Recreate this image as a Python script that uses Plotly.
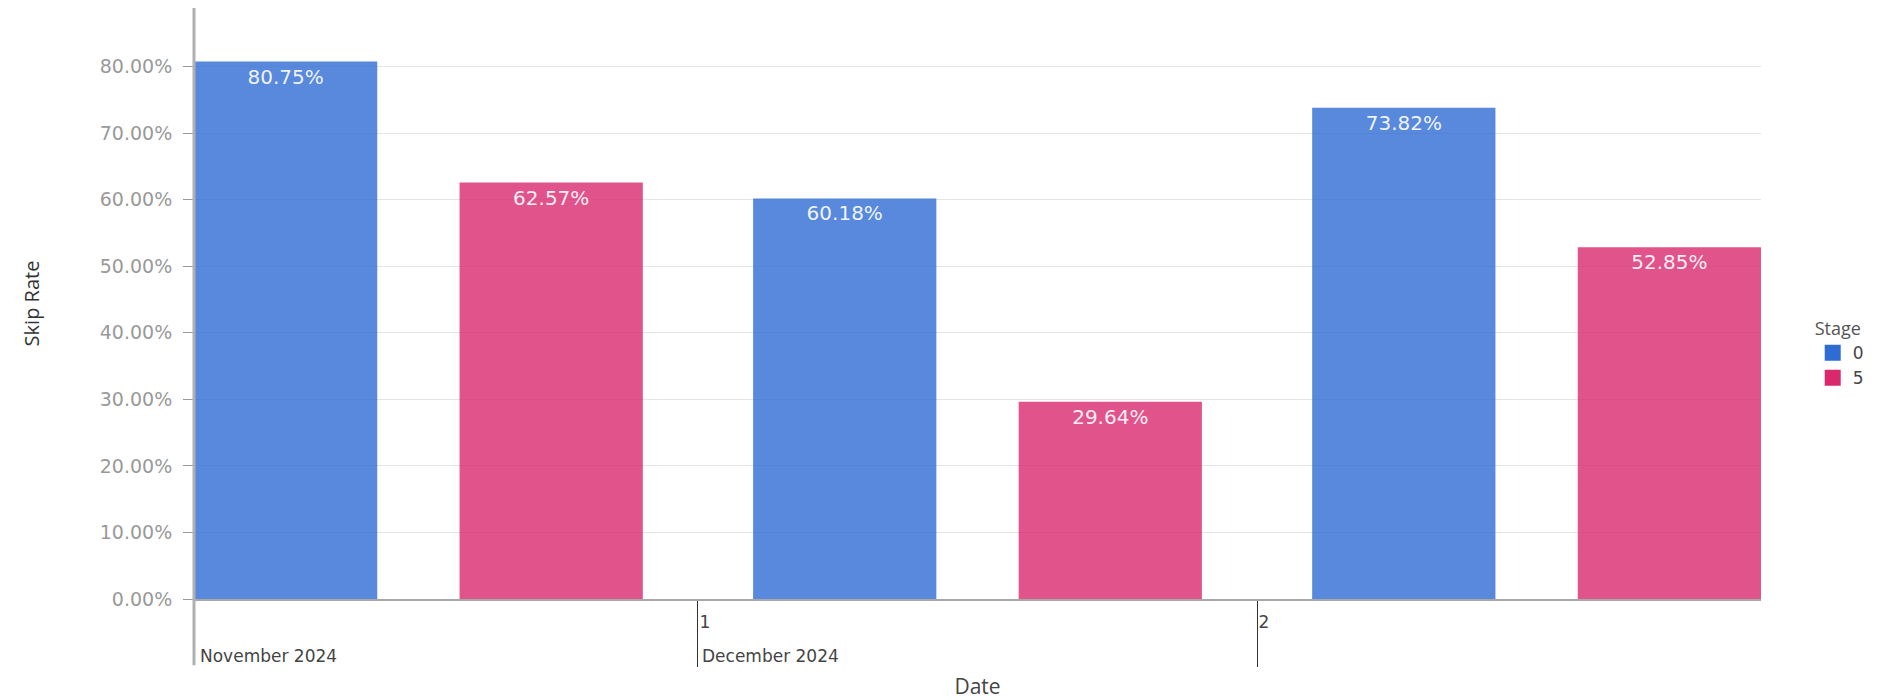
import plotly.graph_objects as go

# Daily skip rate per stage
dates = ["2024-11-30", "2024-12-01", "2024-12-02"]
stages = ["0", "5"]
skip_rate_stage0 = [0.8075, 0.6018, 0.7382]
skip_rate_stage5 = [0.6257, 0.2964, 0.5285]

# x-axis labels: day numbers at day boundaries, month headers below
tick_dates = ["2024-12-01", "2024-12-02"]
tick_labels = ["1", "2"]
month_labels = ["November 2024", "December 2024"]

# visible date window, trimmed to the outer bar edges
x_window = ["2024-11-30 02:22", "2024-12-02 21:38"]

solid_colors = ["#2e6cd4", "#da286e"]
bar_colors = ["rgba(46,108,212,0.8)", "rgba(218,40,110,0.8)"]

fig = go.Figure()
for name, values, color in zip(stages, [skip_rate_stage0, skip_rate_stage5], bar_colors):
    fig.add_trace(go.Bar(
        x=dates,
        y=values,
        name=name,
        xperiod=86400000,
        xperiodalignment="middle",
        marker=dict(color=color, line=dict(width=0)),
        text=[f"{v:.2%}" for v in values],
        textposition="inside",
        insidetextanchor="end",
        insidetextfont=dict(family="DejaVu Sans", size=20, color="rgba(255,255,255,0.92)"),
        showlegend=False,
        hovertemplate="%{y:.2%}<extra></extra>",
    ))

# legend swatches in full colour
for name, color in zip(stages, solid_colors):
    fig.add_trace(go.Scatter(
        x=[None], y=[None], mode="markers", name=name,
        marker=dict(symbol="square", size=16, color=color),
        showlegend=True,
    ))

annotations = [
    dict(text=month_labels[0], xref="paper", x=0, yref="paper", y=-0.097,
         xanchor="left", yanchor="middle", showarrow=False, xshift=4,
         font=dict(family="DejaVu Sans", size=17, color="#444")),
    dict(text=month_labels[1], xref="x", x=tick_dates[0], yref="paper", y=-0.097,
         xanchor="left", yanchor="middle", showarrow=False, xshift=2,
         font=dict(family="DejaVu Sans", size=17, color="#444")),
]

fig.update_layout(
    width=1900,
    height=700,
    margin=dict(l=194, r=139, t=8, b=101),
    paper_bgcolor="white",
    plot_bgcolor="white",
    barmode="group",
    bargap=0.05,
    bargroupgap=0.31,
    font=dict(family="DejaVu Sans", color="#444"),
    legend=dict(
        title=dict(text="Stage", font=dict(family="Open Sans", size=18, color="#555")),
        font=dict(family="DejaVu Sans", size=17, color="#444"),
        x=1.033, xanchor="left", y=0.486, yanchor="top",
        itemwidth=30, tracegroupgap=0,
    ),
    annotations=annotations,
    shapes=[
        dict(type="line", xref="paper", yref="paper", x0=0, x1=0, y0=-0.112, y1=1,
             line=dict(color="#b0b0b0", width=3)),
    ],
    xaxis=dict(
        type="date",
        range=x_window,
        automargin=False,
        tickvals=tick_dates,
        ticktext=tick_labels,
        ticks="outside",
        ticklen=66,
        tickwidth=1,
        tickcolor="#333",
        ticklabelposition="outside right",
        ticklabelstandoff=7,
        tickfont=dict(family="DejaVu Sans", size=17, color="#444"),
        showgrid=False,
        showline=True,
        linecolor="#a8a8a8",
        linewidth=2,
        zeroline=False,
        title=dict(text="Date", font=dict(family="Open Sans", size=21, color="#444"), standoff=57),
    ),
    yaxis=dict(
        range=[0, 0.888],
        automargin=False,
        tick0=0,
        dtick=0.1,
        tickformat=".2%",
        ticks="outside",
        ticklen=10,
        tickcolor="#999",
        ticklabelstandoff=7,
        tickfont=dict(family="DejaVu Sans", size=19, color="#999"),
        showgrid=True,
        gridcolor="#e4e4e4",
        gridwidth=1,
        zeroline=False,
        showline=False,
        title=dict(text="Skip Rate", font=dict(family="Open Sans", size=20, color="#333"), standoff=54),
    ),
)

fig.write_html("out.html")
